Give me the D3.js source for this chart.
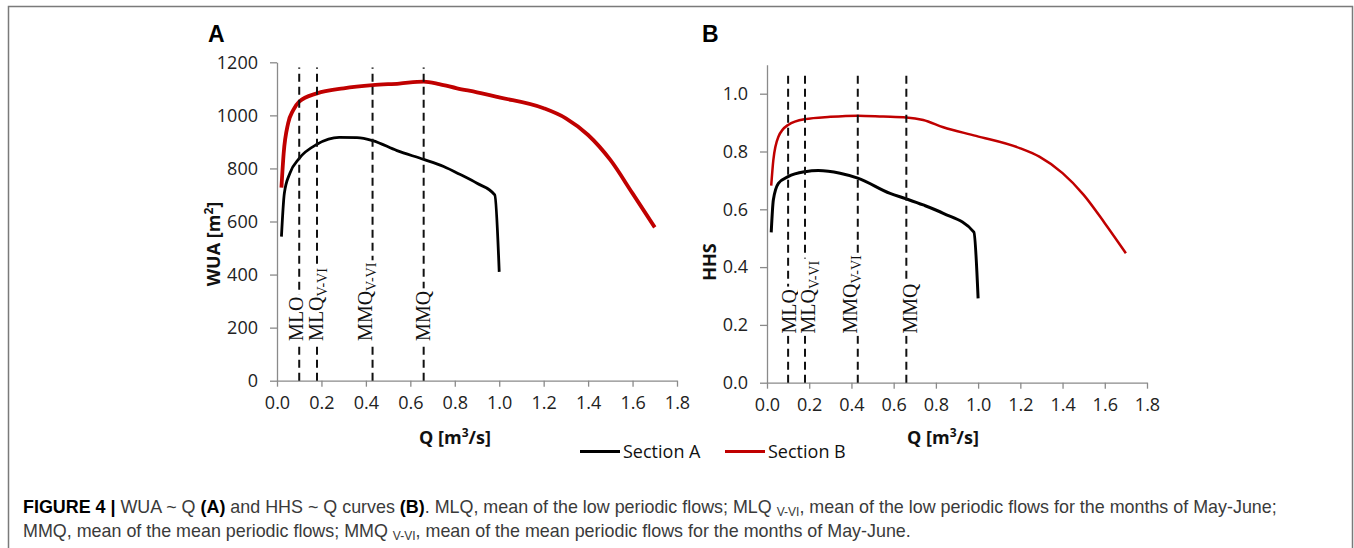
<!DOCTYPE html>
<html>
<head>
<meta charset="utf-8">
<script src="https://cdn.jsdelivr.net/npm/d3@7/dist/d3.min.js"></script>
<style>
  body { margin: 0; background: #fff; }
  svg { display: block; }
  .tick text { font-family: "Open Sans", sans-serif; font-size: 18px; fill: #222; }
  .axis path, .axis line { stroke: #8a8a8a; stroke-width: 1.3; }
  .ttl { font-family: "Open Sans", sans-serif; font-weight: bold; font-size: 18px; fill: #111; }
  .mk { font-family: "Liberation Serif", serif; font-size: 20px; fill: #111; }
  .cap { font-family: "Liberation Sans", Arial, sans-serif; font-size: 17.9px; fill: #3a3a3a; }
</style>
</head>
<body>
<svg width="1354" height="548"></svg>
<script>
// Panel A: WUA ~ Q
const qWuaSecA = [0.02, 0.033, 0.058, 0.1, 0.18, 0.28, 0.36, 0.43, 0.54, 0.66, 0.75, 0.82, 0.9, 0.98, 1.0]
const wuaSecA = [543, 706, 782, 838, 891, 917, 916, 905, 867, 834, 807, 779, 744, 700, 410]
const qWuaSecB = [0.02, 0.03, 0.05, 0.073, 0.1, 0.18, 0.3, 0.43, 0.55, 0.66, 0.73, 0.81, 0.9, 1.0, 1.2, 1.3, 1.4, 1.5, 1.6, 1.7]
const wuaSecB = [728, 857, 970, 1020, 1052, 1083, 1102, 1114, 1120, 1127, 1118, 1102, 1087, 1068, 1027, 989, 926, 832, 706, 578]

// Panel B: HHS ~ Q
const qHhsSecA = [0.02, 0.03, 0.054, 0.1, 0.18, 0.243, 0.346, 0.43, 0.583, 0.66, 0.74, 0.835, 0.98, 1.0]
const hhsSecA = [0.52, 0.632, 0.69, 0.713, 0.73, 0.734, 0.725, 0.708, 0.655, 0.636, 0.615, 0.586, 0.521, 0.292]
const qHhsSecB = [0.02, 0.03, 0.054, 0.1, 0.18, 0.3, 0.43, 0.55, 0.66, 0.74, 0.835, 0.99, 1.2, 1.29, 1.4, 1.5, 1.6, 1.7]
const hhsSecB = [0.682, 0.77, 0.851, 0.892, 0.912, 0.92, 0.924, 0.921, 0.918, 0.909, 0.884, 0.854, 0.811, 0.782, 0.725, 0.65, 0.552, 0.448]

// reference flows (dashed lines)
const flowQ = [0.1, 0.18, 0.43, 0.66]
const flowNamesA = ["MLO", "MLQ", "MMQ", "MMQ"]
const flowNamesB = ["MLQ", "MLQ", "MMQ", "MMQ"]
const flowSubs = ["", "V-VI", "V-VI", ""]

const xTicks = [0, 0.2, 0.4, 0.6, 0.8, 1.0, 1.2, 1.4, 1.6, 1.8]
const yTicksA = [0, 200, 400, 600, 800, 1000, 1200]
const yTicksB = [0, 0.2, 0.4, 0.6, 0.8, 1.0]

const seriesNames = ["Section A", "Section B"]
const seriesColors = ["#000000", "#c00000"]

const svg = d3.select("svg")

// figure frame
svg.append("path")
  .attr("d", "M8.5,560 V6.5 H1352.5 V560")
  .attr("fill", "none")
  .attr("stroke", "#7a7a7a")
  .attr("stroke-width", 1.5)

function drawPanel(p) {
  const x = d3.scaleLinear().domain([0, 1.8]).range([p.left, p.right])
  const y = d3.scaleLinear().domain([0, p.yMax]).range([p.bottom, p.top])
  const g = svg.append("g")

  g.append("g")
    .attr("class", "axis")
    .attr("transform", "translate(0," + p.bottom + ")")
    .call(d3.axisBottom(x).tickValues(xTicks).tickFormat(d3.format(".1f")).tickSize(6).tickSizeOuter(0).tickPadding(10))

  g.append("g")
    .attr("class", "axis")
    .attr("transform", "translate(" + p.left + ",0)")
    .call(d3.axisLeft(y).tickValues(p.yTicks).tickFormat(p.yFmt).tickSize(7).tickSizeOuter(0).tickPadding(12))

  const line = d3.line()
    .x(d => x(d[0]))
    .y(d => y(d[1]))
    .curve(d3.curveMonotoneX)

  p.series.forEach(function (s, i) {
    g.append("path")
      .datum(d3.zip(s[0], s[1]))
      .attr("fill", "none")
      .attr("stroke", seriesColors[i])
      .attr("stroke-width", p.widths[i])
      .attr("stroke-linejoin", "round")
      .attr("d", line)
  })

  // dashed reference flows
  g.selectAll(".flow")
    .data(flowQ)
    .enter()
    .append("line")
    .attr("x1", d => x(d))
    .attr("x2", d => x(d))
    .attr("y1", y(0))
    .attr("y2", y(p.flowTop))
    .attr("stroke", "#111")
    .attr("stroke-width", 2)
    .attr("stroke-dasharray", "8,5")

  flowQ.forEach(function (q, i) {
    const lg = g.append("g")
      .attr("transform", "translate(" + (x(q) + p.shifts[i]) + "," + y(p.labelAt) + ") rotate(-90)")
    const t = lg.append("text").attr("class", "mk")
    t.append("tspan").text(p.names[i])
    if (flowSubs[i]) {
      t.append("tspan").attr("dy", 4).attr("font-size", 14).text(flowSubs[i])
    }
    const bb = t.node().getBBox()
    lg.insert("rect", "text")
      .attr("x", bb.x - 2)
      .attr("y", bb.y + 1)
      .attr("width", bb.width + 4)
      .attr("height", bb.height - 2)
      .attr("fill", "#fff")
  })

  // titles
  g.append("text").attr("class", "ttl")
    .attr("x", p.xTitleX).attr("y", 444)
    .attr("text-anchor", "middle")
    .html("Q [m<tspan font-size='12' dy='-7'>3</tspan><tspan dy='7'>/s]</tspan>")

  g.append("text").attr("class", "ttl")
    .attr("transform", "translate(" + p.yTitleX + "," + p.yTitleY + ") rotate(-90)")
    .attr("text-anchor", "middle")
    .html(p.yTitle)

  g.append("text")
    .attr("x", p.letterX).attr("y", 42)
    .attr("font-family", "Liberation Sans, Arial, sans-serif")
    .attr("font-weight", "bold")
    .attr("font-size", 23)
    .attr("fill", "#000")
    .text(p.letter)
}

drawPanel({
  left: 277, right: 677, top: 62.3, bottom: 380.7, yMax: 1200,
  yTicks: yTicksA, yFmt: d3.format("d"),
  series: [[qWuaSecA, wuaSecA], [qWuaSecB, wuaSecB]],
  widths: [2.8, 3.8],
  flowTop: 1180, labelAt: 150, names: flowNamesA, shifts: [4, 6, -1, 6],
  xTitleX: 455, yTitleX: 220, yTitleY: 244,
  yTitle: "WUA [m<tspan font-size='12' dy='-7'>2</tspan><tspan dy='7'>]</tspan>",
  letter: "A", letterX: 208
})

drawPanel({
  left: 767, right: 1147, top: 64.8, bottom: 382.7, yMax: 1.1,
  yTicks: yTicksB, yFmt: d3.format(".1f"),
  series: [[qHhsSecA, hhsSecA], [qHhsSecB, hhsSecB]],
  widths: [3, 2.5],
  flowTop: 1.075, labelAt: 0.17, names: flowNamesB, shifts: [8, 10, -1, 11],
  xTitleX: 943, yTitleX: 716, yTitleY: 262,
  yTitle: "HHS",
  letter: "B", letterX: 702
})

// legend
const legend = svg.append("g")
const legX = [580, 725]
seriesNames.forEach(function (n, i) {
  legend.append("line")
    .attr("x1", legX[i]).attr("x2", legX[i] + 40)
    .attr("y1", 451.5).attr("y2", 451.5)
    .attr("stroke", seriesColors[i]).attr("stroke-width", 3)
  legend.append("text")
    .attr("x", legX[i] + 43).attr("y", 458)
    .attr("font-family", "Open Sans, sans-serif")
    .attr("font-size", 18)
    .attr("fill", "#111")
    .text(n)
})

// caption
const cap1 = svg.append("text").attr("class", "cap").attr("x", 23).attr("y", 513)
cap1.append("tspan").attr("font-weight", "bold").attr("fill", "#000").text("FIGURE 4 | ")
cap1.append("tspan").text("WUA ~ Q ")
cap1.append("tspan").attr("font-weight", "bold").attr("fill", "#000").text("(A)")
cap1.append("tspan").text(" and HHS ~ Q curves ")
cap1.append("tspan").attr("font-weight", "bold").attr("fill", "#000").text("(B)")
cap1.append("tspan").text(". MLQ, mean of the low periodic flows; MLQ ")
cap1.append("tspan").attr("font-size", 12).attr("dy", 3).text("V-VI")
cap1.append("tspan").attr("dy", -3).text(", mean of the low periodic flows for the months of May-June;")

const cap2 = svg.append("text").attr("class", "cap").attr("x", 23).attr("y", 537)
cap2.append("tspan").text("MMQ, mean of the mean periodic flows; MMQ ")
cap2.append("tspan").attr("font-size", 12).attr("dy", 3).text("V-VI")
cap2.append("tspan").attr("dy", -3).text(", mean of the mean periodic flows for the months of May-June.")
</script>
</body>
</html>
